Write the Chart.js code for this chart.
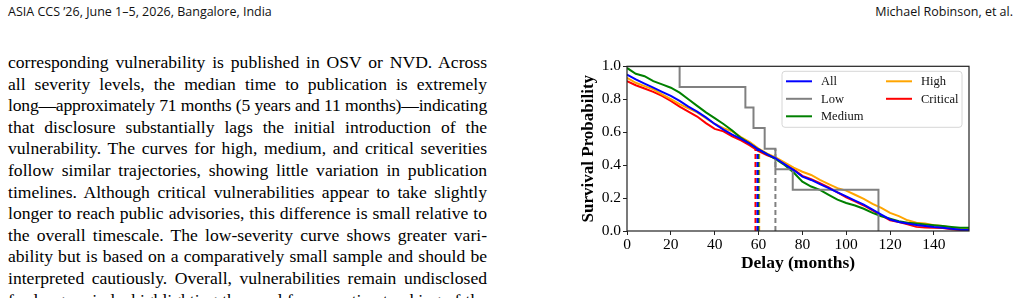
<!DOCTYPE html>
<html>
<head>
<meta charset="utf-8">
<script src="https://cdn.jsdelivr.net/npm/chart.js@4.4.1/dist/chart.umd.min.js"></script>
<style>
    html, body { margin: 0; padding: 0; background: #fff; }
    body { width: 1022px; height: 298px; overflow: hidden; position: relative; }
    .hdr { position: absolute; top: 3px; font-family: "Open Sans", sans-serif; font-size: 12.5px; color: #111; }
    #txt { position: absolute; left: 8px; top: 52px; width: 479px; font-family: "Liberation Serif", serif; font-size: 17.6px; line-height: 21.6px; color: #000; }
    #txt div { white-space: nowrap; text-align: justify; text-align-last: justify; }
    #wrap { position: absolute; left: 560px; top: 55px; width: 412px; height: 222px; }
</style>
</head>
<body>
<div class="hdr" style="left:8px">ASIA CCS ’26, June 1–5, 2026, Bangalore, India</div>
<div class="hdr" style="right:9px">Michael Robinson, et al.</div>

<div id="txt">
    <div>corresponding vulnerability is published in OSV or NVD. Across</div>
    <div>all severity levels, the median time to publication is extremely</div>
    <div>long—approximately 71 months (5 years and 11 months)—indicating</div>
    <div>that disclosure substantially lags the initial introduction of the</div>
    <div>vulnerability. The curves for high, medium, and critical severities</div>
    <div>follow similar trajectories, showing little variation in publication</div>
    <div>timelines. Although critical vulnerabilities appear to take slightly</div>
    <div>longer to reach public advisories, this difference is small relative to</div>
    <div>the overall timescale. The low-severity curve shows greater vari-</div>
    <div>ability but is based on a comparatively small sample and should be</div>
    <div>interpreted cautiously. Overall, vulnerabilities remain undisclosed</div>
    <div>for long periods, highlighting the need for proactive tracking of the</div>
</div>

<div id="wrap"><canvas id="kmChart"></canvas></div>

<script>
// satır taşarsa harf aralığını biraz daralt
document.querySelectorAll('#txt div').forEach(d => {
    let ls = 0;
    while (d.scrollWidth > 479 && ls > -1) {
        ls -= 0.05;
        d.style.letterSpacing = ls + 'px';
    }
});

// delay grid (months) for the Kaplan-Meier curves
const months = [0, 4, 8, 12, 16, 20, 24, 28, 32, 36, 40, 44, 48, 52, 56, 60, 64, 68, 72, 76,
                80, 84, 88, 92, 96, 100, 104, 108, 112, 116, 120, 124, 128, 132, 136, 140, 144, 148, 152, 156];

const allSurv = [0.95, 0.92, 0.895, 0.87, 0.845, 0.82, 0.79, 0.755, 0.725, 0.69, 0.65, 0.615, 0.585, 0.56, 0.53, 0.495, 0.465, 0.44, 0.405, 0.37,
                 0.33, 0.31, 0.285, 0.26, 0.235, 0.21, 0.185, 0.16, 0.13, 0.10, 0.07, 0.055, 0.045, 0.037, 0.03, 0.024, 0.02, 0.013, 0.008, 0.006];
const mediumSurv = [0.99, 0.955, 0.94, 0.91, 0.89, 0.87, 0.84, 0.80, 0.76, 0.72, 0.685, 0.65, 0.61, 0.565, 0.53, 0.495, 0.465, 0.435, 0.40, 0.355,
                    0.30, 0.27, 0.25, 0.22, 0.19, 0.17, 0.155, 0.135, 0.11, 0.09, 0.075, 0.06, 0.05, 0.045, 0.04, 0.035, 0.03, 0.025, 0.02, 0.02];
const highSurv = [0.93, 0.90, 0.88, 0.86, 0.83, 0.80, 0.77, 0.745, 0.72, 0.685, 0.65, 0.625, 0.605, 0.57, 0.54, 0.50, 0.47, 0.445, 0.415, 0.385,
                  0.36, 0.34, 0.31, 0.285, 0.26, 0.245, 0.22, 0.195, 0.165, 0.14, 0.11, 0.09, 0.065, 0.05, 0.045, 0.035, 0.03, 0.02, 0.012, 0.01];
const criticalSurv = [0.91, 0.885, 0.865, 0.845, 0.82, 0.79, 0.755, 0.725, 0.695, 0.655, 0.62, 0.605, 0.575, 0.55, 0.52, 0.485, 0.46, 0.44, 0.41, 0.375,
                      0.335, 0.315, 0.29, 0.265, 0.235, 0.205, 0.18, 0.155, 0.125, 0.095, 0.065, 0.055, 0.04, 0.025, 0.022, 0.02, 0.018, 0.01, 0.006, 0.006];

// low severity: small sample, plain step function
const lowMonths = [0, 24, 54, 57.7, 62.8, 67.7, 75.6, 114.7];
const lowSurv = [1.0, 0.875, 0.75, 0.625, 0.5, 0.375, 0.25, 0.0];

// median delay per series (dashed drop lines)
const seriesNames = ['All', 'Low', 'Medium', 'High', 'Critical'];
const medianDelay = [59.5, 67.7, 59.9, 60.3, 58.6];

const xTicks = [0, 20, 40, 60, 80, 100, 120, 140];
const yTicks = [0.0, 0.2, 0.4, 0.6, 0.8, 1.0];

const kolorlar = { All: '#0000ff', Low: '#808080', Medium: '#008000', High: '#ffa500', Critical: '#ff0000' };
const survByName = { All: allSurv, Medium: mediumSurv, High: highSurv, Critical: criticalSurv };

const datasets = [];
seriesNames.forEach((name, i) => {
    const pts = name === 'Low'
        ? lowMonths.map((m, k) => ({ x: m, y: lowSurv[k] }))
        : months.map((m, k) => ({ x: m, y: survByName[name][k] }));
    datasets.push({
        label: name,
        data: pts,
        borderColor: kolorlar[name],
        borderWidth: 2,
        pointRadius: 0,
        tension: 0,
        stepped: name === 'Low' ? 'before' : false,
        fill: false
    });
    // median drop line
    datasets.push({
        label: name + ' median',
        isMedian: true,
        data: [{ x: medianDelay[i], y: 0 }, { x: medianDelay[i], y: 0.5 }],
        borderColor: kolorlar[name],
        borderWidth: 2,
        borderDash: [5, 3],
        pointRadius: 0,
        fill: false
    });
});

const serif = 'Liberation Serif';

// box frame (all four spines) above the curves
const cerceve = {
    id: 'cerceve',
    afterDatasetsDraw(chart) {
        const { ctx, chartArea: a } = chart;
        ctx.save();
        ctx.strokeStyle = '#222';
        ctx.lineWidth = 1.2;
        ctx.strokeRect(a.left, a.top, a.right - a.left, a.bottom - a.top);
        ctx.restore();
    }
};

// matplotlib style legend, 2 columns filled column-first
const lejant = {
    id: 'lejant',
    afterDraw(chart) {
        const { ctx, chartArea: a } = chart;
        const items = chart.data.datasets.filter(d => !d.isMedian);
        const bx = a.right - 187, by = a.top + 5, bw = 180, bh = 56;
        ctx.save();
        ctx.beginPath();
        ctx.roundRect(bx, by, bw, bh, 3);
        ctx.fillStyle = 'rgba(255,255,255,0.85)';
        ctx.fill();
        ctx.strokeStyle = '#d6d6d6';
        ctx.lineWidth = 1;
        ctx.stroke();
        ctx.font = '12.5px "' + serif + '"';
        ctx.textBaseline = 'middle';
        ctx.fillStyle = '#111';
        items.forEach((d, i) => {
            const col = Math.floor(i / 3), row = i % 3;
            const x0 = bx + 4 + col * 100;
            const y0 = by + 10 + row * 17.5;
            ctx.strokeStyle = d.borderColor;
            ctx.lineWidth = 2;
            ctx.beginPath();
            ctx.moveTo(x0, y0);
            ctx.lineTo(x0 + 26, y0);
            ctx.stroke();
            ctx.fillText(d.label, x0 + 35, y0 + 0.5);
        });
        ctx.restore();
    }
};

new Chart(document.getElementById('kmChart'), {
    type: 'line',
    data: { datasets },
    options: {
        responsive: true,
        maintainAspectRatio: false,
        animation: false,
        layout: { padding: { top: 7, right: 3, left: 0, bottom: 0 } },
        plugins: { legend: { display: false }, tooltip: { enabled: false } },
        scales: {
            x: {
                type: 'linear',
                min: 0,
                max: 156,
                afterBuildTicks: s => { s.ticks = xTicks.map(v => ({ value: v })); },
                afterFit: s => { s.height = 46; },
                ticks: { color: '#000', font: { family: serif, size: 15.5 }, padding: 1, maxRotation: 0 },
                grid: { display: true, drawOnChartArea: false, drawTicks: true, tickLength: 4, color: '#222' },
                border: { display: false },
                title: { display: true, text: 'Delay (months)', color: '#000', font: { family: serif, size: 17.5, weight: 'bold' }, padding: { top: 0, bottom: 3 } }
            },
            y: {
                min: 0,
                max: 1,
                afterBuildTicks: s => { s.ticks = yTicks.map(v => ({ value: v })); },
                afterFit: s => { s.width = 67; },
                ticks: { color: '#000', font: { family: serif, size: 15.5 }, padding: 2, callback: v => v.toFixed(1) },
                grid: { display: true, drawOnChartArea: false, drawTicks: true, tickLength: 4, color: '#222' },
                border: { display: false },
                title: { display: true, text: 'Survival Probability', color: '#000', font: { family: serif, size: 17, weight: 'bold' }, padding: { top: 18, bottom: 0 } }
            }
        }
    },
    plugins: [cerceve, lejant]
});
</script>
</body>
</html>
